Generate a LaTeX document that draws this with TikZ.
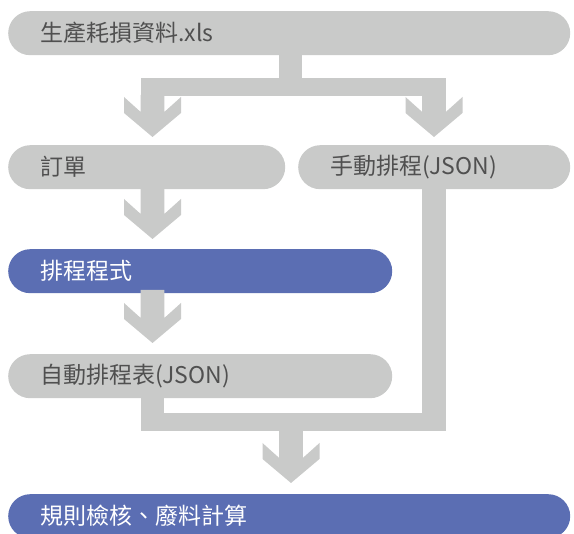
\documentclass[tikz,border=0pt]{standalone}
\usepackage{fontspec}
\newfontfamily\cjk{Noto Sans CJK TC}
\definecolor{boxgray}{HTML}{C9CAC9}
\definecolor{boxblue}{HTML}{5B6EB3}
\definecolor{txtgray}{HTML}{505050}
\newcommand\blkarrow[3]{%
  \fill[conn] ({#1-11.8},#2) -- ({#1-11.8},{#3-25}) -- ({#1-28.5},{#3-40}) -- ({#1-28.5},{#3-24})
    -- (#1,#3) -- ({#1+28.5},{#3-24}) -- ({#1+28.5},{#3-40}) -- ({#1+11.8},{#3-25}) -- ({#1+11.8},#2) -- cycle;}
\begin{document}
\begin{tikzpicture}[x=1pt,y=-1pt,
  graybox/.style={fill=boxgray, rounded corners=22pt, minimum height=44pt, inner xsep=32pt, inner ysep=0pt,
     anchor=north west, align=left, text=txtgray, font=\cjk\fontsize{23}{26}\selectfont},
  bluebox/.style={graybox, fill=boxblue, text=white},
  conn/.style={fill=boxgray}]
\useasboundingbox (0,0) rectangle (574,534);
\clip (0,0) rectangle (574,534);
% nodes
\node[graybox, text width={562-64}] (src) at (8,11) {生產耗損資料.xls};
\node[graybox, text width={277-64}] (order) at (8,145) {訂單};
\node[graybox, text width={272-64}] (manual) at (298,145) {手動排程(JSON)};
\node[bluebox, text width={384-64}] (prog) at (8,249) {排程程式};
\node[graybox, text width={384-64}] (auto) at (8,354) {自動排程表(JSON)};
\node[bluebox, text width={562-64}] (check) at (8,494) {規則檢核、廢料計算};
% connectors: source splits
\fill[conn] (278.5,50) rectangle (302.3,80);
\fill[conn] (140.7,77.7) rectangle (445.7,96);
\blkarrow{152.5}{95}{137}
\blkarrow{434}{95}{137}
% order -> prog -> auto
\blkarrow{152.5}{185}{239}
\blkarrow{152.5}{290}{343}
% auto + manual merge
\fill[conn] (140.7,393) rectangle (164.3,431);
\fill[conn] (422.3,185) rectangle (445.7,431);
\fill[conn] (140.7,413) rectangle (445.7,431);
\blkarrow{291}{430}{483}
\end{tikzpicture}
\end{document}
